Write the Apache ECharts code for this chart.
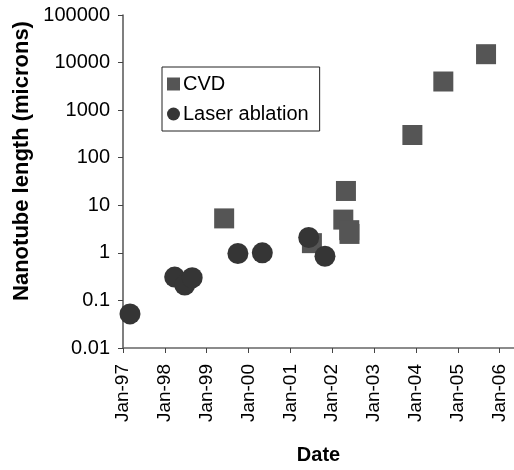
<!DOCTYPE html>
<html>
<head>
<meta charset="utf-8">
<script src="https://cdn.jsdelivr.net/npm/echarts@6/dist/echarts.min.js"></script>
<style>
  html, body { margin: 0; padding: 0; background: #fff; }
  #chart { width: 514px; height: 470px; }
</style>
</head>
<body>
<div id="chart"></div>
<script>
  // data
  const cvdDates = ['1999-06-03', '2001-07-08', '2002-04-08', '2002-05-01', '2002-05-30', '2002-06-01', '2003-12-02', '2004-08-28', '2005-09-05'];
  const cvdLengths = [5.3, 1.6, 5, 20, 3, 2.5, 300, 4000, 15000];

  const laserDates = ['1997-03-03', '1998-03-28', '1998-06-24', '1998-08-28', '1999-10-01', '2000-05-01', '2001-06-10', '2001-10-30'];
  const laserLengths = [0.052, 0.31, 0.21, 0.3, 0.97, 1.0, 2.1, 0.85];

  const tickYears = [1997, 1998, 1999, 2000, 2001, 2002, 2003, 2004, 2005, 2006];

  const font = 'Arial, "Liberation Sans", Helvetica, sans-serif';
  const ts = s => Date.parse(s + 'T00:00:00Z');
  const yearTicks = tickYears.map(y => Date.UTC(y, 0, 1));

  const chart = echarts.init(document.getElementById('chart'));

  const option = {
    backgroundColor: '#fff',
    animation: false,
    grid: { left: 123, right: 0, top: 15, bottom: 108 },
    legend: {
      orient: 'vertical',
      left: 162,
      top: 67,
      padding: [7, 11, 7, 5],
      itemGap: 10,
      itemWidth: 13,
      itemHeight: 13,
      borderColor: '#222',
      borderWidth: 1,
      textStyle: { fontFamily: font, fontSize: 20, color: '#000', padding: [0, 0, 0, -2] },
      data: ['CVD', 'Laser ablation']
    },
    xAxis: {
      type: 'value',
      min: ts('1997-01-01'),
      max: ts('2006-05-07'),
      name: 'Date',
      nameLocation: 'middle',
      nameGap: 97,
      nameTextStyle: { fontFamily: font, fontSize: 20, fontWeight: 'bold', color: '#000' },
      splitLine: { show: false },
      axisLine: { lineStyle: { color: '#666', width: 1.5 } },
      axisTick: { show: true, length: 5, lineStyle: { color: '#444' }, customValues: yearTicks },
      axisLabel: {
        customValues: yearTicks,
        rotate: 90,
        margin: 16,
        fontFamily: font,
        fontSize: 19,
        color: '#000',
        formatter: v => 'Jan-' + String(new Date(v).getUTCFullYear()).slice(2)
      }
    },
    yAxis: {
      type: 'log',
      logBase: 10,
      min: 0.01,
      max: 100000,
      splitLine: { show: false },
      minorTick: { show: false },
      axisLine: { show: true, lineStyle: { color: '#555', width: 1.5 } },
      axisTick: { show: true, length: 5, lineStyle: { color: '#444' } },
      axisLabel: {
        margin: 13,
        fontFamily: font,
        fontSize: 20,
        color: '#000',
        formatter: v => String(+(+v).toPrecision(6))
      }
    },
    graphic: [{
      type: 'text',
      x: 22,
      y: 161,
      rotation: Math.PI / 2,
      style: {
        text: 'Nanotube length (microns)',
        font: 'bold 22px ' + font,
        fill: '#000',
        align: 'center',
        verticalAlign: 'middle'
      }
    }],
    series: [
      {
        name: 'CVD',
        type: 'scatter',
        symbol: 'rect',
        symbolSize: 20,
        itemStyle: { color: '#555', opacity: 1 },
        data: cvdDates.map((d, i) => [ts(d), cvdLengths[i]])
      },
      {
        name: 'Laser ablation',
        type: 'scatter',
        symbol: 'circle',
        symbolSize: 21,
        itemStyle: { color: '#353535', opacity: 1 },
        data: laserDates.map((d, i) => [ts(d), laserLengths[i]])
      }
    ]
  };

  chart.setOption(option);

  window.addEventListener('resize', () => {
    chart.resize();
  });
</script>
</body>
</html>
